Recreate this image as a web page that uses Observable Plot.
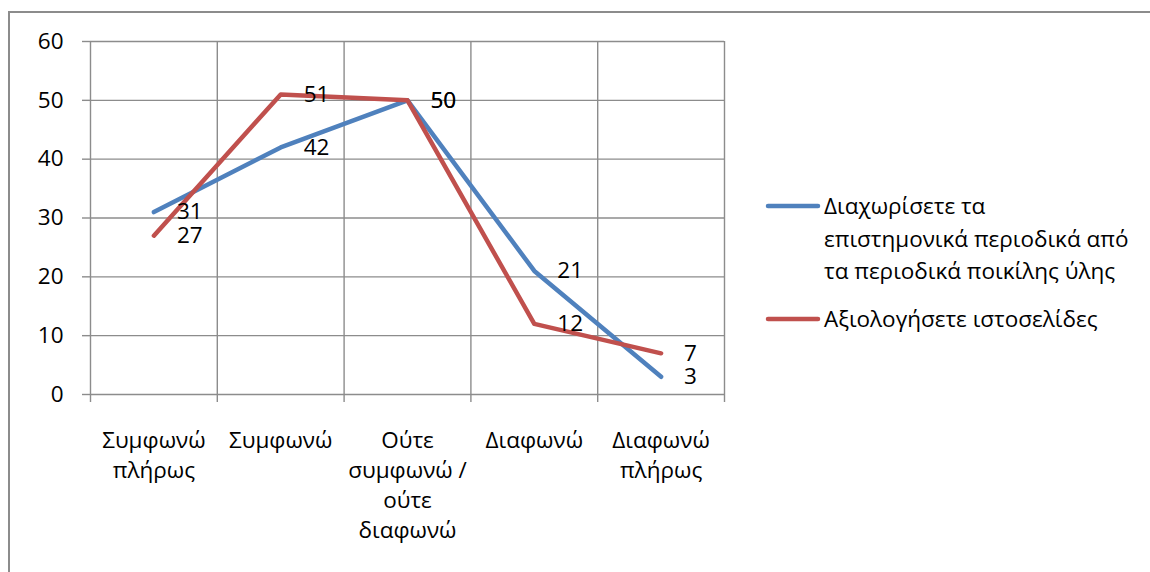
<!DOCTYPE html>
<html>
<head>
<meta charset="utf-8">
<script src="https://cdn.jsdelivr.net/npm/d3@7"></script>
<script src="https://cdn.jsdelivr.net/npm/@observablehq/plot@0.6"></script>
<style>
  html, body { margin: 0; padding: 0; background: #fff; }
  #wrap { position: relative; width: 1150px; height: 572px; overflow: hidden; font-family: "Open Sans", sans-serif; }
  #frame { position: absolute; left: 8px; top: 11px; width: 1200px; height: 600px; border-top: 2px solid #8c8c8c; border-left: 2px solid #8c8c8c; box-sizing: border-box; }
  #chart { position: absolute; left: 0; top: 0; }
  #legend { position: absolute; left: 765px; top: 190px; font-size: 22.5px; color: #000; }
  .item { position: absolute; left: 0; display: flex; align-items: flex-start; white-space: nowrap; }
  .item svg { flex: none; margin-top: 13px; }
  .item div { margin-left: 3px; line-height: 32.5px; }
</style>
</head>
<body>
<div id="wrap">
  <div id="frame"></div>
  <div id="chart"></div>
  <div id="legend"></div>
</div>
<script>
const categories = ["Συμφωνώ\nπλήρως", "Συμφωνώ", "Ούτε\nσυμφωνώ /\nούτε\nδιαφωνώ", "Διαφωνώ", "Διαφωνώ\nπλήρως"];
const seriesNames = ["Διαχωρίσετε τα επιστημονικά περιοδικά από τα περιοδικά ποικίλης ύλης", "Αξιολογήσετε ιστοσελίδες"];
const legendLines = [["Διαχωρίσετε τα", "επιστημονικά περιοδικά από", "τα περιοδικά ποικίλης ύλης"], ["Αξιολογήσετε ιστοσελίδες"]];
const blueValues = [31, 42, 50, 21, 3];
const redValues = [27, 51, 50, 12, 7];
const yTicks = [0, 10, 20, 30, 40, 50, 60];
const colors = ["#4F81BD", "#C0504D"];

const rows = [];
[blueValues, redValues].forEach((vals, s) =>
  vals.forEach((v, i) => rows.push({series: seriesNames[s], pos: i + 0.5, value: v}))
);
const boundaries = d3.range(categories.length + 1);
const centers = categories.map((_, i) => i + 0.5);

const chart = Plot.plot({
  width: 1150,
  height: 572,
  marginLeft: 90,
  marginRight: 426,
  marginTop: 41,
  marginBottom: 178,
  x: {type: "linear", domain: [0, categories.length], axis: null},
  y: {domain: [0, 60], axis: null},
  color: {domain: seriesNames, range: colors},
  style: {fontFamily: "'Open Sans', sans-serif", fontSize: "22.5px", color: "#000", background: "transparent", overflow: "visible"},
  marks: [
    Plot.gridY(yTicks, {stroke: "#8c8c8c", strokeOpacity: 1, strokeWidth: 1.4}),
    Plot.gridX(boundaries, {stroke: "#8c8c8c", strokeOpacity: 1, strokeWidth: 1.4}),
    Plot.axisY({ticks: yTicks, label: null, tickSize: 8, tickPadding: 19, stroke: "#8c8c8c", strokeWidth: 1.4, fill: "#000", fontSize: 22.5, tickFormat: d => String(d)}),
    Plot.axisX({ticks: boundaries, label: null, tickSize: 8, stroke: "#8c8c8c", strokeWidth: 1.4, tickFormat: () => ""}),
    Plot.axisX({ticks: centers, label: null, tickSize: 0, tickPadding: 32, fill: "#000", fontSize: 22.5, lineHeight: 1.333, tickFormat: d => categories[Math.floor(d)]}),
    Plot.line(rows, {x: "pos", y: "value", z: "series", stroke: "series", strokeWidth: 4.5, strokeLinejoin: "round", strokeLinecap: "round"}),
    Plot.text(rows, {x: "pos", y: "value", text: d => String(d.value), textAnchor: "start", dx: 23, fill: "#000", fontSize: 22.5})
  ]
});
document.getElementById("chart").appendChild(chart);

const legendBox = document.getElementById("legend");
let offsetY = 0;
legendLines.forEach((lines, i) => {
  const item = document.createElement("div");
  item.className = "item";
  item.style.top = offsetY + "px";
  item.innerHTML = `<svg width="56" height="6"><line x1="3" y1="3" x2="53" y2="3" stroke="${colors[i]}" stroke-width="4.5" stroke-linecap="round"/></svg><div>${lines.join("<br>")}</div>`;
  legendBox.appendChild(item);
  offsetY += lines.length * 32.5 + 15;
});
</script>
</body>
</html>
